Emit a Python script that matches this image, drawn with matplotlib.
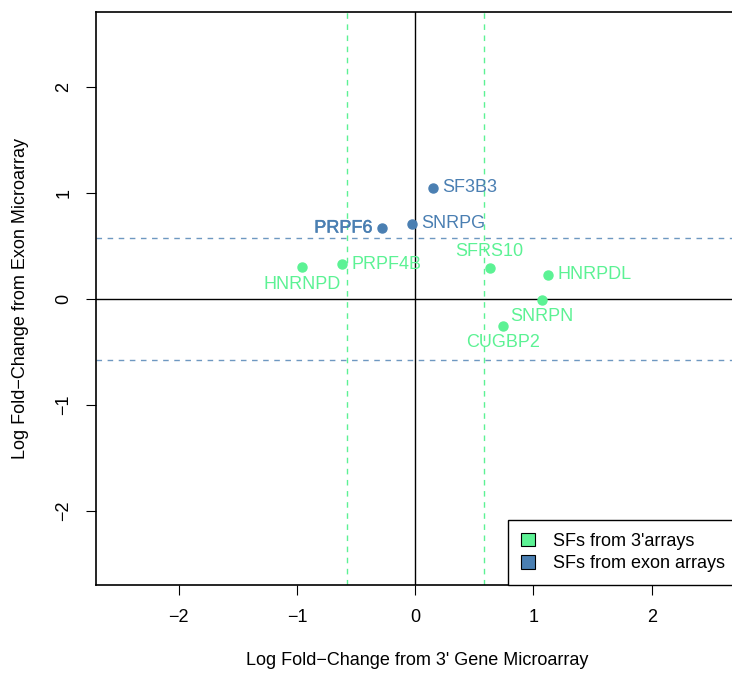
import matplotlib
matplotlib.use('Agg')
import matplotlib.pyplot as plt
import matplotlib.patheffects as pe
from matplotlib.patches import Patch

plt.rcParams['font.family'] = ['Liberation Sans', 'DejaVu Sans']

# splicing factors, 3' array vs exon array log fold-change
genes = ['SF3B3', 'SNRPG', 'PRPF6', 'HNRNPD', 'PRPF4B', 'SFRS10', 'HNRPDL', 'SNRPN', 'CUGBP2']
x_vals = [0.15, -0.03, -0.28, -0.955, -0.62, 0.63, 1.12, 1.07, 0.74]
y_vals = [1.05, 0.71, 0.67, 0.30, 0.33, 0.29, 0.23, -0.01, -0.25]
source = ['exon', 'exon', 'exon', '3p', '3p', '3p', '3p', '3p', '3p']
label_pos = ['right', 'right', 'left', 'below', 'right', 'above', 'right', 'below', 'below']
cutoff = 0.58

green = '#5CF294'
blue = '#4A7FB2'
colors = {'3p': green, 'exon': blue}

fig = plt.figure(figsize=(7.32, 6.75), dpi=100)
ax = fig.add_axes([96 / 732, 1 - 585 / 675, (738 - 96) / 732, (585 - 12) / 675])

ax.set_xlim(-2.70, 2.73)
ax.set_ylim(-2.70, 2.71)

ax.axhline(0, color='black', lw=1)
ax.axvline(0, color='black', lw=1)
for c in (-cutoff, cutoff):
    ax.axvline(c, color=green, lw=1, ls=(0, (4, 4)))
    ax.axhline(c, color=blue, lw=1, ls=(0, (4, 4)), alpha=0.8)

fs = 13
for g, x, y, s, p in zip(genes, x_vals, y_vals, source, label_pos):
    col = colors[s]
    ax.plot(x, y, 'o', color=col, ms=6.5, mec=col)
    if p == 'right':
        ax.annotate(g, (x, y), xytext=(7, 0), textcoords='offset points',
                    ha='left', va='center', color=col, fontsize=fs)
    elif p == 'left':
        ax.annotate(g, (x, y), xytext=(-7, 0), textcoords='offset points',
                    ha='right', va='center', color=col, fontsize=fs,
                    path_effects=[pe.withStroke(linewidth=0.35, foreground=col)])
    elif p == 'below':
        ax.annotate(g, (x, y), xytext=(0, -6), textcoords='offset points',
                    ha='center', va='top', color=col, fontsize=fs)
    else:
        ax.annotate(g, (x, y), xytext=(0, 6), textcoords='offset points',
                    ha='center', va='bottom', color=col, fontsize=fs)

ax.set_xticks([-2, -1, 0, 1, 2])
ax.set_yticks([-2, -1, 0, 1, 2])
ax.tick_params(labelsize=13, length=7, pad=10)
plt.setp(ax.get_yticklabels(), rotation=90, va='center')
ax.set_xlabel("Log Fold\u2212Change from 3' Gene Microarray", fontsize=13, labelpad=19)
ax.set_ylabel('Log Fold\u2212Change from Exon Microarray', fontsize=13, labelpad=19)
for sp in ax.spines.values():
    sp.set_linewidth(1.2)

handles = [Patch(facecolor=green, edgecolor='black', lw=0.8, label="SFs from 3'arrays"),
           Patch(facecolor=blue, edgecolor='black', lw=0.8, label='SFs from exon arrays')]
leg = ax.legend(handles=handles, loc='lower right', borderaxespad=0, fontsize=13,
                fancybox=False, framealpha=1, edgecolor='black',
                handlelength=0.8, handleheight=0.8, borderpad=0.7, handletextpad=1.0,
                labelspacing=0.3)
leg.get_frame().set_linewidth(1.0)

fig.savefig('out.png', dpi=100)
